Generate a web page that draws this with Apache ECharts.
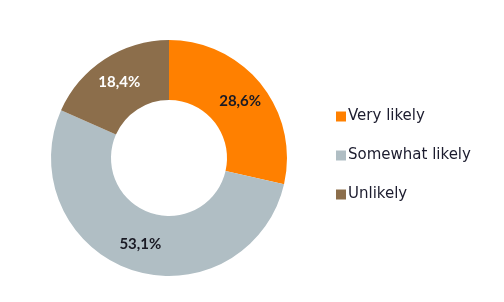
<!DOCTYPE html>
<html><head><meta charset="utf-8">
<script src="https://cdn.jsdelivr.net/npm/echarts@6/dist/echarts.min.js"></script>
<style>html,body{margin:0;padding:0;background:#fff}#c{width:504px;height:302px}</style>
</head><body><div id="c"></div>
<script>
const categories = ["Very likely", "Somewhat likely", "Unlikely"];
const values = [28.6, 53.1, 18.4];
const colors = ["#FF8000", "#B0BEC4", "#8C6E4B"];
const labelColors = ["#1a1a24", "#1a1a24", "#ffffff"];

const chart = echarts.init(document.getElementById('c'), null, {renderer: 'canvas'});
chart.setOption({
  animation: false,
  legend: {
    orient: 'vertical',
    left: 331,
    top: 104,
    icon: 'rect',
    itemWidth: 10,
    itemHeight: 10,
    itemGap: 24,
    textStyle: {fontFamily: 'DejaVu Sans', fontSize: 15, color: '#1c1c2e', padding: [0,0,0,-3]},
    data: categories
  },
  series: [{
    type: 'pie',
    center: [169, 158],
    radius: [58, 118],
    startAngle: 90,
    clockwise: true,
    label: {
      show: true,
      position: 'inside',
      fontFamily: 'Lato',
      fontSize: 15,
      fontWeight: 'bold',
      formatter: p => p.value.toFixed(1).replace('.', ',') + '%'
    },
    labelLine: {show: false},
    data: categories.map((c, i) => ({
      name: c, value: values[i],
      itemStyle: {color: colors[i]},
      label: {color: labelColors[i]}
    }))
  }]
});
</script></body></html>
